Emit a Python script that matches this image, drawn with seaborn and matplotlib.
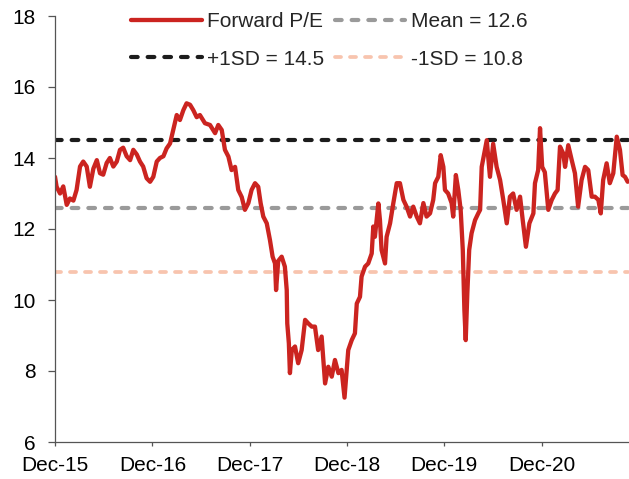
import numpy as np
import pandas as pd
import matplotlib
matplotlib.use("Agg")
import matplotlib.pyplot as plt
import matplotlib.dates as mdates
import seaborn as sns

sns.set_style("ticks")
plt.rcParams["font.family"] = ["Liberation Sans", "DejaVu Sans"]

# ===== data: forward P/E, days counted from 1 Dec 2015 =====
START = pd.Timestamp("2015-12-01")
day_offset = [
    0, 6, 19, 31, 44, 56, 69, 81, 94, 106,
    119, 131, 144, 157, 169, 181, 194, 206, 219, 232,
    244, 256, 269, 282, 294, 307, 319, 331, 344, 357,
    369, 382, 394, 407, 419, 432, 444, 457, 469, 482,
    494, 507, 519, 532, 544, 563, 582, 601, 613, 626,
    638, 651, 663, 676, 688, 701, 713, 726, 738, 751,
    763, 772, 782, 795, 807, 817, 826, 830, 838, 851,
    863, 870, 872, 878, 882, 889, 901, 913, 926, 939,
    951, 964, 976, 988, 1001, 1014, 1026, 1039, 1051, 1064,
    1076, 1087, 1101, 1114, 1126, 1133, 1145, 1151, 1164, 1176,
    1189, 1195, 1201, 1214, 1220, 1226, 1239, 1245, 1258, 1270,
    1283, 1295, 1308, 1320, 1333, 1345, 1358, 1370, 1383, 1395,
    1408, 1420, 1427, 1439, 1448, 1458, 1464, 1476, 1489, 1495,
    1505, 1514, 1523, 1531, 1537, 1542, 1548, 1555, 1564, 1577,
    1589, 1596, 1602, 1614, 1621, 1633, 1645, 1658, 1671, 1683,
    1696, 1708, 1720, 1733, 1746, 1756, 1768, 1781, 1796, 1802,
    1814, 1821, 1829, 1839, 1852, 1865, 1877, 1887, 1896, 1908,
    1915, 1927, 1940, 1952, 1964, 1977, 1990, 2002, 2015, 2027,
    2040, 2049, 2058, 2071, 2083, 2096, 2109, 2121, 2131, 2140,
    2150,
]
forward_pe = [
    13.47, 13.19, 13.0, 13.2, 12.68, 12.86, 12.8, 13.1, 13.76, 13.9,
    13.76, 13.19, 13.7, 13.94, 13.57, 13.53, 13.86, 14.0, 13.76, 13.9,
    14.23, 14.29, 14.05, 13.94, 14.23, 14.1, 13.9, 13.76, 13.43, 13.33,
    13.47, 13.9, 14.0, 14.05, 14.27, 14.41, 14.79, 15.21, 15.07, 15.35,
    15.54, 15.5, 15.35, 15.15, 15.21, 14.98, 14.93, 14.7, 14.93, 14.79,
    14.23, 14.04, 13.66, 13.75, 13.1, 12.9, 12.54, 12.73, 13.1, 13.29,
    13.19, 12.73, 12.35, 12.16, 11.69, 11.22, 11.03, 10.28, 11.1, 11.22,
    10.94, 10.28, 9.34, 8.78, 7.94, 8.59, 8.69, 8.22, 8.59, 9.44,
    9.34, 9.25, 9.25, 8.59, 8.97, 7.65, 8.12, 7.84, 8.31, 7.94,
    8.03, 7.25, 8.59, 8.87, 9.06, 9.9, 10.09, 10.66, 10.94, 11.03,
    11.31, 12.07, 11.78, 12.72, 12.25, 11.41, 11.03, 11.78, 12.16, 12.72,
    13.29, 13.29, 12.82, 12.63, 12.35, 12.63, 12.35, 12.16, 12.73, 12.35,
    12.44, 12.82, 13.29, 13.47, 14.08, 13.75, 13.1, 13.0, 12.73, 12.35,
    13.52, 13.1, 12.54, 11.41, 9.72, 8.87, 10.19, 11.41, 11.88, 12.25,
    12.44, 12.54, 13.75, 14.23, 14.5, 13.47, 14.4, 13.75, 13.38, 12.82,
    12.16, 12.91, 13.0, 12.54, 12.91, 12.25, 11.5, 12.16, 12.44, 13.29,
    13.66, 14.84, 13.75, 13.6, 12.54, 12.82, 13.0, 13.1, 14.32, 14.13,
    13.75, 14.36, 13.94, 13.57, 12.63, 13.38, 13.75, 13.66, 12.91, 12.91,
    12.82, 12.44, 13.38, 13.85, 13.29, 13.57, 14.6, 14.23, 13.52, 13.47,
    13.33,
]
MEAN = 12.6
PLUS_1SD = 14.5
MINUS_1SD = 10.8

dates = START + pd.to_timedelta(day_offset, unit="D")
df = pd.DataFrame({"date": dates, "pe": forward_pe})
span = [dates[0], dates[-1]]

RED = "#CB2420"
GREY = "#9A9A9A"
BLACK = "#1C1C1C"
PEACH = "#F8C4AE"
AXIS = "#555555"

fig = plt.figure(figsize=(6.29, 4.79), dpi=100)
ax = fig.add_axes([55 / 629, 37 / 479, 574 / 629, 426 / 479])

dash = dict(dashes=(1.6, 2.4), dash_capstyle="round")
sns.lineplot(x=span, y=[MEAN, MEAN], ax=ax, color=GREY, lw=3,
             label="Mean = 12.6", **dash)
sns.lineplot(x=span, y=[PLUS_1SD, PLUS_1SD], ax=ax, color=BLACK, lw=3,
             label="+1SD = 14.5", **dash)
sns.lineplot(x=span, y=[MINUS_1SD, MINUS_1SD], ax=ax, color=PEACH, lw=2.7,
             label="-1SD = 10.8", **dash)
sns.lineplot(data=df, x="date", y="pe", ax=ax, color=RED, lw=3.1,
             label="Forward P/E", sort=False)

ax.set_xlim(START, START + pd.Timedelta(days=2155))
ax.set_ylim(6, 18)
ax.set_yticks(range(6, 19, 2))
ax.xaxis.set_major_locator(mdates.MonthLocator(bymonth=12, bymonthday=1))
ax.xaxis.set_major_formatter(mdates.DateFormatter("%b-%y"))
ax.set_xlabel("")
ax.set_ylabel("")

for side in ["top", "right"]:
    ax.spines[side].set_visible(False)
for side in ["left", "bottom"]:
    ax.spines[side].set_color(AXIS)
    ax.spines[side].set_linewidth(0.9)
ax.tick_params(axis="y", direction="out", length=5, width=0.9, color=AXIS,
               pad=9, labelsize=15, labelcolor="black")
ax.tick_params(axis="x", direction="out", length=3, width=0.9, color=AXIS,
               pad=7, labelsize=15, labelcolor="black")

h, l = ax.get_legend_handles_labels()
order = [l.index(n) for n in ["Forward P/E", "+1SD = 14.5", "Mean = 12.6", "-1SD = 10.8"]]
ax.legend([h[i] for i in order], [l[i] for i in order], ncol=2,
          loc="upper left", bbox_to_anchor=(131 / 629, 1 - 12 / 479),
          bbox_transform=fig.transFigure, frameon=False, fontsize=15,
          handlelength=3.4, handletextpad=0.25, columnspacing=0.5,
          labelspacing=0.9, borderpad=0, borderaxespad=0)

fig.savefig("out.png", dpi=100)
plt.close(fig)
print("Saved: out.png")
